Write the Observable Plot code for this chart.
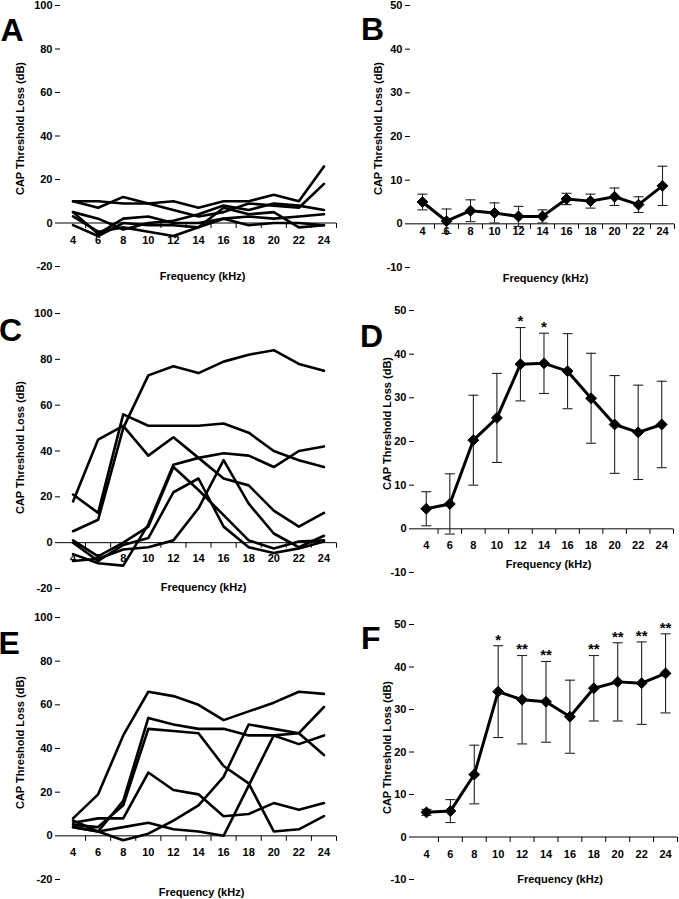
<!DOCTYPE html>
<html><head><meta charset="utf-8">
<script src="https://cdn.jsdelivr.net/npm/d3@7"></script>
<script src="https://cdn.jsdelivr.net/npm/@observablehq/plot@0.6"></script>
<style>
html,body{margin:0;padding:0;background:#fff;}
#fig{position:relative;width:679px;height:899px;overflow:hidden;background:#fff;}
#fig svg{position:absolute;overflow:visible;}
</style></head><body><div id="fig"></div>
<script>
// ---------- data ----------
const frequencies = [4, 6, 8, 10, 12, 14, 16, 18, 20, 22, 24];
const xTickBounds = [5, 7, 9, 11, 13, 15, 17, 19, 21, 23, 25];
const yTicksIndividual = [-20, 0, 20, 40, 60, 80, 100];
const yTicksMean = [-10, 0, 10, 20, 30, 40, 50];
const yLabel = "CAP Threshold Loss (dB)";
const xLabel = "Frequency (kHz)";

// Panel A: individual animals
const panelA = [
  [10, 10, 9, 9, 10, 7, 10, 10, 13, 10, 26],
  [10, 7, 12, 9, 6, 3, 5, 9, 8, 7, 18],
  [5, 2, -3, 0, 1, 4, 8, 6, 9, 8, 6],
  [5, -5, 2, 3, 0, 0, 2, 3, 2, 3, 4],
  [3, -4, -2, -4, -6, -2, 7, 4, 5, -2, -1],
  [-1, -6, 0, -1, -1, -2, 2, -1, 0, 0, -1]
];
// Panel B: mean ± error
const meanB = [5.0, 0.6, 3.0, 2.5, 1.7, 1.7, 5.7, 5.2, 6.2, 4.4, 8.7];
const errB = [1.8, 2.8, 2.5, 2.3, 2.3, 1.5, 1.3, 1.6, 2.0, 1.8, 4.5];
const sigB = ["", "", "", "", "", "", "", "", "", "", ""];

// Panel C: individual animals
const panelC = [
  [21, 13, 56, 51, 51, 51, 52, 48, 40, 36, 33],
  [18, 45, 51, 38, 46, 37, 28, 25, 14, 7, 13],
  [5, 10, 50, 73, 77, 74, 79, 82, 84, 78, 75],
  [-5, -9, -10, 8, 34, 37, 39, 38, 33, 40, 42],
  [1, -6, 0, 7, 33, 23, 12, 1, -2.5, 0.5, 1],
  [0, -8, -1, 2, 22, 28, 7, -2, -4.5, -2.5, 0.5],
  [-8, -7, -3, -2, 1, 15, 36, 17, 4, -2, 3]
];
// Panel D: mean ± error
const meanD = [4.6, 5.7, 20.3, 25.4, 37.7, 37.9, 36.1, 29.9, 23.9, 22.1, 23.9];
const errD = [3.9, 6.9, 10.3, 10.2, 8.4, 6.9, 8.6, 10.3, 11.2, 10.8, 9.9];
const sigD = ["", "", "", "", "*", "*", "", "", "", "", ""];

// Panel E: individual animals
const panelE = [
  [8, 19, 46, 66, 64, 60, 53, 57, 61, 66, 65],
  [7, 2, 16, 54, 51, 49, 49, 46, 46, 42, 46],
  [5, 4, 14, 49, 48, 47, 32, 24, 2, 3, 9],
  [6, 8, 8, 29, 21, 19, 9, 10, 15, 12, 15],
  [4, 2, -2, 1, 7, 14, 27, 51, 49, 47, 37],
  [4, 2, 4, 6, 3, 2, 0, 23, 46, 47, 59]
];
// Panel F: mean ± error
const meanF = [5.8, 6.1, 14.7, 34.2, 32.3, 31.8, 28.3, 35.0, 36.5, 36.2, 38.5];
const errF = [0.7, 2.7, 6.9, 10.8, 10.4, 9.5, 8.6, 7.7, 9.2, 9.7, 9.3];
const sigF = ["", "", "", "*", "**", "**", "", "**", "**", "**", "**"];

// ---------- drawing ----------
const FONT = '"Liberation Sans", Arial, Helvetica, sans-serif';
const capSymbol = {draw(ctx) { ctx.moveTo(-5, 0); ctx.lineTo(5, 0); }};
const tickDownSymbol = {draw(ctx) { ctx.moveTo(0, 0); ctx.lineTo(0, 5); }};

function panel(cfg) {
  const marks = [];
  const yTicks = cfg.kind === "ind" ? yTicksIndividual : yTicksMean;
  const yDomain = [yTicks[0], yTicks[yTicks.length - 1]];

  if (cfg.kind === "ind") {
    const rows = [];
    cfg.lines.forEach((vals, id) => vals.forEach((v, i) => rows.push({id, f: frequencies[i], v})));
    marks.push(Plot.line(rows, {x: "f", y: "v", z: "id", stroke: "black", strokeWidth: 2.6, strokeLinejoin: "round"}));
  }
  // x axis line at 0 with ticks between categories
  marks.push(Plot.ruleY([0], {stroke: "black", strokeWidth: 1}));
  marks.push(Plot.dot(xTickBounds, {x: d => d, y: 0, symbol: tickDownSymbol, stroke: "black", fill: "none", strokeWidth: 1}));
  marks.push(Plot.text(frequencies, {x: d => d, y: 0, dy: cfg.tickDy, text: d => String(d), fill: "black"}));
  marks.push(Plot.axisY({ticks: yTicks, tickSize: 5, tickPadding: 3, line: true, label: null, stroke: "black", fill: "black", tickFormat: d => String(d)}));

  if (cfg.kind === "mean") {
    const rows = frequencies.map((f, i) => ({f, m: cfg.mean[i], lo: cfg.mean[i] - cfg.err[i], hi: cfg.mean[i] + cfg.err[i], s: cfg.sig[i]}));
    marks.push(Plot.ruleX(rows, {x: "f", y1: "lo", y2: "hi", stroke: "#222", strokeWidth: 1.1}));
    marks.push(Plot.dot(rows, {x: "f", y: "hi", symbol: capSymbol, stroke: "#222", fill: "none", strokeWidth: 1.1}));
    marks.push(Plot.dot(rows, {x: "f", y: "lo", symbol: capSymbol, stroke: "#222", fill: "none", strokeWidth: 1.1}));
    marks.push(Plot.line(rows, {x: "f", y: "m", stroke: "black", strokeWidth: 3, strokeLinejoin: "round"}));
    marks.push(Plot.dot(rows, {x: "f", y: "m", symbol: "diamond2", r: 4.9, fill: "black", stroke: "black", strokeWidth: 1}));
    marks.push(Plot.text(rows.filter(d => d.s), {x: "f", y: "hi", text: "s", dy: -6, fontSize: 15, fill: "black"}));
  }
  // axis titles and panel letter
  marks.push(Plot.text([yLabel], {frameAnchor: "left", textAnchor: "middle", rotate: -90, dx: cfg.ylDx, dy: cfg.ylDy, fill: "black"}));
  marks.push(Plot.text([xLabel], {frameAnchor: "bottom", textAnchor: "middle", dx: cfg.xlDx, dy: cfg.xlDy, fill: "black"}));
  marks.push(Plot.text([cfg.letter], {frameAnchor: "top-left", textAnchor: "start", dx: cfg.lDx, dy: cfg.lDy, fontSize: 32, fill: "black"}));

  const svg = Plot.plot({
    width: cfg.width, height: cfg.height,
    marginLeft: cfg.ml, marginRight: cfg.mr, marginTop: cfg.mt, marginBottom: cfg.mb,
    x: {domain: [3, 25], axis: null},
    y: {domain: yDomain, axis: null},
    style: {fontFamily: FONT, fontWeight: "bold", fontSize: "11px", background: "white", color: "black", overflow: "visible"},
    marks
  });
  svg.style.left = cfg.left + "px";
  svg.style.top = cfg.top + "px";
  document.getElementById("fig").appendChild(svg);
}

panel({letter: "A", kind: "ind", lines: panelA, left: 0, top: 0, width: 340, height: 300,
  ml: 60, mr: 4, mt: 5, mb: 34, tickDy: 17, ylDx: -40, ylDy: -7.5, xlDx: 4, xlDy: 13, lDx: -60, lDy: 12.5});
panel({letter: "B", kind: "mean", mean: meanB, err: errB, sig: sigB, left: 340, top: 0, width: 339, height: 300,
  ml: 70, mr: 5, mt: 5, mb: 33, tickDy: 8, ylDx: -32, ylDy: -8, xlDx: 3, xlDy: 14, lDx: -49.5, lDy: 12});
panel({letter: "C", kind: "ind", lines: panelC, left: 0, top: 300, width: 340, height: 300,
  ml: 60, mr: 4, mt: 13, mb: 12, tickDy: 16, ylDx: -40, ylDy: -3.5, xlDx: 5, xlDy: 2, lDx: -61.5, lDy: 4.5});
panel({letter: "D", kind: "mean", mean: meanD, err: errD, sig: sigD, left: 340, top: 300, width: 339, height: 300,
  ml: 74, mr: 6, mt: 10, mb: 28, tickDy: 17, ylDx: -27, ylDy: -18, xlDx: 4.5, xlDy: -5, lDx: -54.5, lDy: 13.5});
panel({letter: "E", kind: "ind", lines: panelE, left: 0, top: 600, width: 340, height: 299,
  ml: 60, mr: 4, mt: 17, mb: 20, tickDy: 17, ylDx: -40, ylDy: -6, xlDx: 3, xlDy: 16, lDx: -62, lDy: 14});
panel({letter: "F", kind: "mean", mean: meanF, err: errF, sig: sigF, left: 340, top: 600, width: 339, height: 299,
  ml: 74, mr: 2, mt: 24, mb: 20, tickDy: 17, ylDx: -27, ylDy: -4.5, xlDx: 14, xlDy: 3, lDx: -53.5, lDy: 2});
</script></body></html>
